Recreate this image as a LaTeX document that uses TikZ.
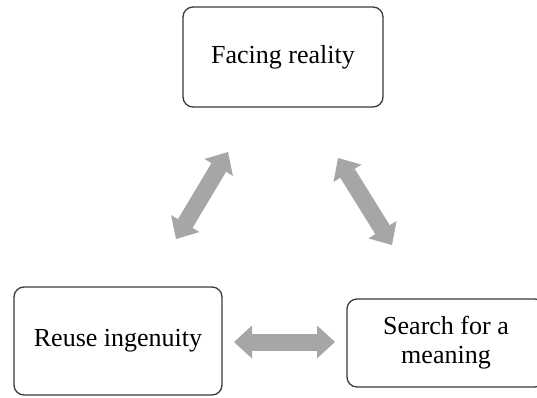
\documentclass[tikz,border=0pt]{standalone}
\usepackage{fontspec}
\setmainfont{Liberation Serif}
\usetikzlibrary{arrows.meta}
\definecolor{arrowgray}{HTML}{A6A6A6}
\definecolor{boxline}{HTML}{3A3A3A}
\tikzset{
  stagebox/.style={draw=boxline, line width=1.3pt, rounded corners=10pt, fill=white,
    align=center, font=\fontsize{26}{29}\selectfont, inner sep=0pt},
  blockarrow/.style={draw=arrowgray, line width=17pt,
    {Triangle[width=33pt,length=18pt,line width=0pt]}-{Triangle[width=33pt,length=18pt,line width=0pt]}},
}
\begin{document}
\begin{tikzpicture}[x=1pt,y=1pt]
\useasboundingbox (0,0) rectangle (537,397);
\clip (0,0) rectangle (537,397);
\node[stagebox, minimum width=200pt, minimum height=100pt] (face) at (283,340) {Facing reality};
\node[stagebox, minimum width=208pt, minimum height=108pt] (reuse) at (118,56) {Reuse ingenuity};
\node[stagebox, minimum width=198pt, minimum height=88pt] (search) at (446,54) {Search for a\\meaning};
\coordinate (a1s) at (176,158);
\coordinate (a1e) at (228,245);
\coordinate (a2s) at (338,239);
\coordinate (a2e) at (392,152);
\coordinate (a3s) at (234,55);
\coordinate (a3e) at (335,55);
\draw[blockarrow] (a1s) -- (a1e);
\draw[blockarrow] (a2s) -- (a2e);
\draw[blockarrow] (a3s) -- (a3e);
\end{tikzpicture}
\end{document}
